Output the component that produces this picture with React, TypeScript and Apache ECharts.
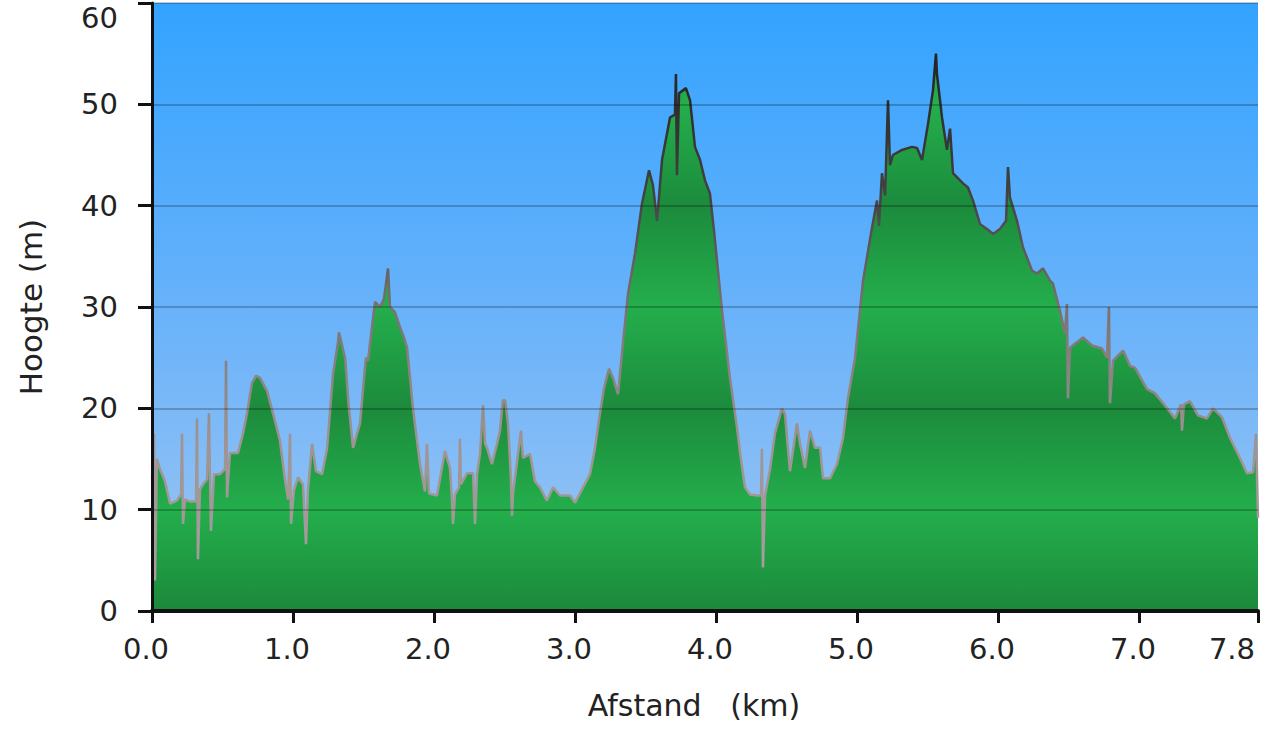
import React, { useEffect, useRef } from "react";
import * as echarts from "echarts";

const distanceKm: number[] = [
  0.0, 0.014, 0.021, 0.035, 0.057, 0.092, 0.128, 0.177, 0.206, 0.213, 0.22, 0.234, 0.27, 0.312, 0.319, 0.326,
  0.34, 0.362, 0.39, 0.404, 0.418, 0.44, 0.482, 0.518, 0.525, 0.532, 0.553, 0.61, 0.645, 0.674, 0.709, 0.738,
  0.766, 0.816, 0.858, 0.908, 0.943, 0.965, 0.979, 0.986, 1.007, 1.035, 1.071, 1.092, 1.106, 1.135, 1.163,
  1.206, 1.241, 1.284, 1.319, 1.326, 1.369, 1.397, 1.426, 1.454, 1.475, 1.504, 1.518, 1.532, 1.56, 1.582,
  1.617, 1.645, 1.674, 1.688, 1.723, 1.759, 1.787, 1.809, 1.851, 1.901, 1.936, 1.95, 1.965, 2.021, 2.078,
  2.113, 2.128, 2.135, 2.149, 2.177, 2.184, 2.191, 2.234, 2.277, 2.291, 2.305, 2.326, 2.348, 2.362, 2.376,
  2.411, 2.447, 2.468, 2.489, 2.504, 2.525, 2.546, 2.553, 2.56, 2.596, 2.617, 2.631, 2.681, 2.716, 2.752,
  2.801, 2.844, 2.894, 2.965, 3.0, 3.057, 3.106, 3.142, 3.177, 3.206, 3.241, 3.27, 3.305, 3.34, 3.376, 3.426,
  3.475, 3.525, 3.553, 3.582, 3.617, 3.674, 3.709, 3.716, 3.723, 3.738, 3.787, 3.816, 3.851, 3.887, 3.922,
  3.957, 3.986, 4.007, 4.043, 4.099, 4.149, 4.177, 4.206, 4.241, 4.291, 4.319, 4.326, 4.333, 4.348, 4.383,
  4.418, 4.468, 4.489, 4.525, 4.574, 4.596, 4.631, 4.667, 4.702, 4.738, 4.759, 4.809, 4.858, 4.901, 4.936,
  4.986, 5.043, 5.106, 5.142, 5.156, 5.177, 5.199, 5.22, 5.234, 5.255, 5.319, 5.39, 5.426, 5.461, 5.504,
  5.539, 5.56, 5.567, 5.603, 5.638, 5.66, 5.681, 5.752, 5.787, 5.823, 5.872, 5.922, 5.965, 6.014, 6.057,
  6.071, 6.085, 6.135, 6.177, 6.241, 6.277, 6.319, 6.369, 6.39, 6.44, 6.475, 6.489, 6.496, 6.511, 6.603,
  6.667, 6.738, 6.773, 6.787, 6.794, 6.816, 6.887, 6.936, 6.972, 7.057, 7.113, 7.199, 7.255, 7.298, 7.305,
  7.319, 7.362, 7.418, 7.482, 7.525, 7.589, 7.645, 7.716, 7.766, 7.809, 7.83, 7.844,
];

const heightM: number[] = [
  13.0, 17.5, 3.0, 15.0, 14.0, 12.8, 10.6, 10.9, 11.5, 17.5, 8.6, 11.0, 10.8, 10.8, 19.0, 5.1,
  12.0, 12.5, 13.0, 19.5, 7.9, 13.5, 13.5, 14.0, 24.7, 11.2, 15.6, 15.6, 17.5, 19.5, 22.5, 23.2,
  23.0, 21.7, 19.5, 16.8, 13.0, 11.0, 17.5, 8.6, 11.9, 13.2, 12.5, 6.6, 12.0, 16.5, 13.8,
  13.5, 16.0, 23.4, 26.5, 27.5, 25.0, 20.0, 16.1, 17.5, 18.5, 23.0, 25.0, 24.7, 28.0, 30.5,
  30.0, 30.8, 33.8, 30.0, 29.5, 28.0, 27.0, 26.0, 20.0, 14.5, 11.8, 16.5, 11.6, 11.4, 15.8,
  14.1, 10.9, 8.6, 11.5, 12.2, 17.0, 12.5, 13.6, 13.6, 8.6, 13.5, 15.5, 20.3, 16.5, 16.1,
  14.5, 16.5, 17.8, 20.8, 20.8, 18.5, 13.0, 9.4, 11.6, 15.5, 17.8, 15.1, 15.5, 12.8, 12.2,
  10.9, 12.2, 11.4, 11.4, 10.7, 12.2, 13.5, 16.1, 19.5, 22.0, 23.9, 23.0, 21.4, 26.4, 31.3, 35.3,
  40.2, 43.5, 42.0, 38.5, 44.5, 48.7, 49.0, 53.0, 43.0, 51.1, 51.6, 50.4, 45.8, 44.5, 42.5,
  41.2, 37.5, 34.6, 29.6, 23.0, 18.1, 15.0, 12.2, 11.5, 11.4, 11.4, 16.0, 4.3, 11.4, 14.0,
  17.5, 20.0, 19.4, 13.8, 18.5, 16.5, 14.1, 17.8, 16.1, 16.1, 13.1, 13.1, 14.5, 17.1, 21.0,
  25.0, 32.6, 37.8, 40.5, 38.0, 43.2, 41.0, 50.4, 44.0, 45.0, 45.5, 45.8, 45.7, 44.5, 48.1,
  51.4, 55.0, 53.0, 48.7, 45.5, 47.6, 43.2, 42.2, 41.8, 40.5, 38.2, 37.7, 37.2, 37.7, 38.5,
  43.8, 40.8, 38.5, 35.9, 33.6, 33.3, 33.8, 32.6, 32.3, 29.6, 27.4, 30.3, 21.0, 26.0, 27.0,
  26.2, 25.9, 25.0, 30.0, 20.5, 24.7, 25.7, 24.2, 24.0, 21.9, 21.5, 20.0, 19.0, 20.4, 17.8,
  20.4, 20.7, 19.3, 19.0, 20.0, 19.1, 17.1, 15.1, 13.6, 13.7, 17.5, 9.2,
];

const xMaxKm = 7.844;
const yTicks = { min: 0, max: 60, interval: 10 };
const xTitle = "Afstand   (km)";
const yTitle = "Hoogte (m)";

const FONT = "'DejaVu Sans', Verdana, sans-serif";

export default function App() {
  const ref = useRef<HTMLDivElement>(null);

  useEffect(() => {
    if (!ref.current) return;
    const chart = echarts.init(ref.current, undefined, { renderer: "svg" });

    const points = distanceKm.map((d, i) => [d, heightM[i]]);

    const top = 3;
    const bottomY = 611;

    const areaGrad = new echarts.graphic.LinearGradient(
      0, top, 0, bottomY,
      [
        { offset: 0, color: "#1f9c44" },
        { offset: 0.168, color: "#24ae4c" },
        { offset: 0.334, color: "#1c8b3c" },
        { offset: 0.5, color: "#24ae4c" },
        { offset: 0.667, color: "#1c8b3c" },
        { offset: 0.834, color: "#24ae4c" },
        { offset: 1, color: "#1c893b" },
      ],
      true
    );

    const lineGrad = new echarts.graphic.LinearGradient(
      0, 50, 0, bottomY,
      [
        { offset: 0, color: "#222222" },
        { offset: 0.27, color: "#444444" },
        { offset: 0.45, color: "#787070" },
        { offset: 0.7, color: "#9e9494" },
        { offset: 1, color: "#aaa0a0" },
      ],
      true
    );

    const bgGrad = new echarts.graphic.LinearGradient(0, 0, 0, 1, [
      { offset: 0, color: "#33a3ff" },
      { offset: 0.5, color: "#68b2fa" },
      { offset: 1, color: "#a0c6f2" },
    ]);

    chart.setOption({
      animation: false,
      grid: {
        left: 152,
        right: 17,
        top: top,
        bottom: 730 - bottomY,
        outerBoundsMode: "none",
        containLabel: false,
        show: true,
        backgroundColor: bgGrad,
        borderWidth: 0,
      },
      xAxis: {
        type: "value",
        min: 0,
        max: xMaxKm,
        interval: 1,
        z: 3,
        axisLine: { show: true, lineStyle: { color: "#111", width: 4 } },
        axisTick: { show: true, length: 12, lineStyle: { color: "#111", width: 3 } },
        splitLine: { show: false },
        axisLabel: {
          margin: 23,
          alignMaxLabel: "right",
          fontFamily: FONT,
          fontSize: 29,
          color: "#222",
          formatter: (v: number) => (v >= xMaxKm - 1e-6 ? `{m|${v.toFixed(1)}}` : `{a|${v.toFixed(1)}}`),
          rich: {
            a: { fontFamily: FONT, fontSize: 29, color: "#222", padding: [0, 12, 0, 0] },
            m: { fontFamily: FONT, fontSize: 29, color: "#222", padding: [0, 3, 0, 0] },
          },
        },
        name: xTitle,
        nameLocation: "middle",
        nameGap: 79,
        nameTextStyle: { fontFamily: FONT, fontSize: 30, color: "#222", padding: [0, 22, 0, 0] },
      },
      yAxis: {
        type: "value",
        min: yTicks.min,
        max: yTicks.max,
        interval: yTicks.interval,
        z: 3,
        axisLine: { show: true, lineStyle: { color: "#111", width: 3 } },
        axisTick: { show: true, length: 14, lineStyle: { color: "#111", width: 3 } },
        splitLine: { show: true, lineStyle: { color: "rgba(0,0,0,0.22)", width: 2 } },
        axisLabel: {
          margin: 34,
          fontFamily: FONT,
          fontSize: 29,
          color: "#222",
          formatter: (v: number) => (v === yTicks.max ? `{t|${v}}` : String(v)),
          rich: {
            t: { fontFamily: FONT, fontSize: 29, lineHeight: 27, color: "#222", padding: [29, 0, 0, 0] },
          },
        },
        name: yTitle,
        nameLocation: "middle",
        nameGap: 106,
        nameRotate: 90,
        nameTextStyle: { fontFamily: FONT, fontSize: 31, color: "#222" },
      },
      series: [
        {
          type: "line",
          data: points,
          symbol: "none",
          showSymbol: false,
          z: 2,
          lineStyle: { width: 2.5, color: lineGrad },
          areaStyle: { color: areaGrad, opacity: 1 },
        },
      ],
    });

    return () => chart.dispose();
  }, []);

  return (
    <div
      ref={ref}
      style={{ position: "absolute", left: 0, top: 0, width: 1275, height: 730, background: "#fff" }}
    />
  );
}
